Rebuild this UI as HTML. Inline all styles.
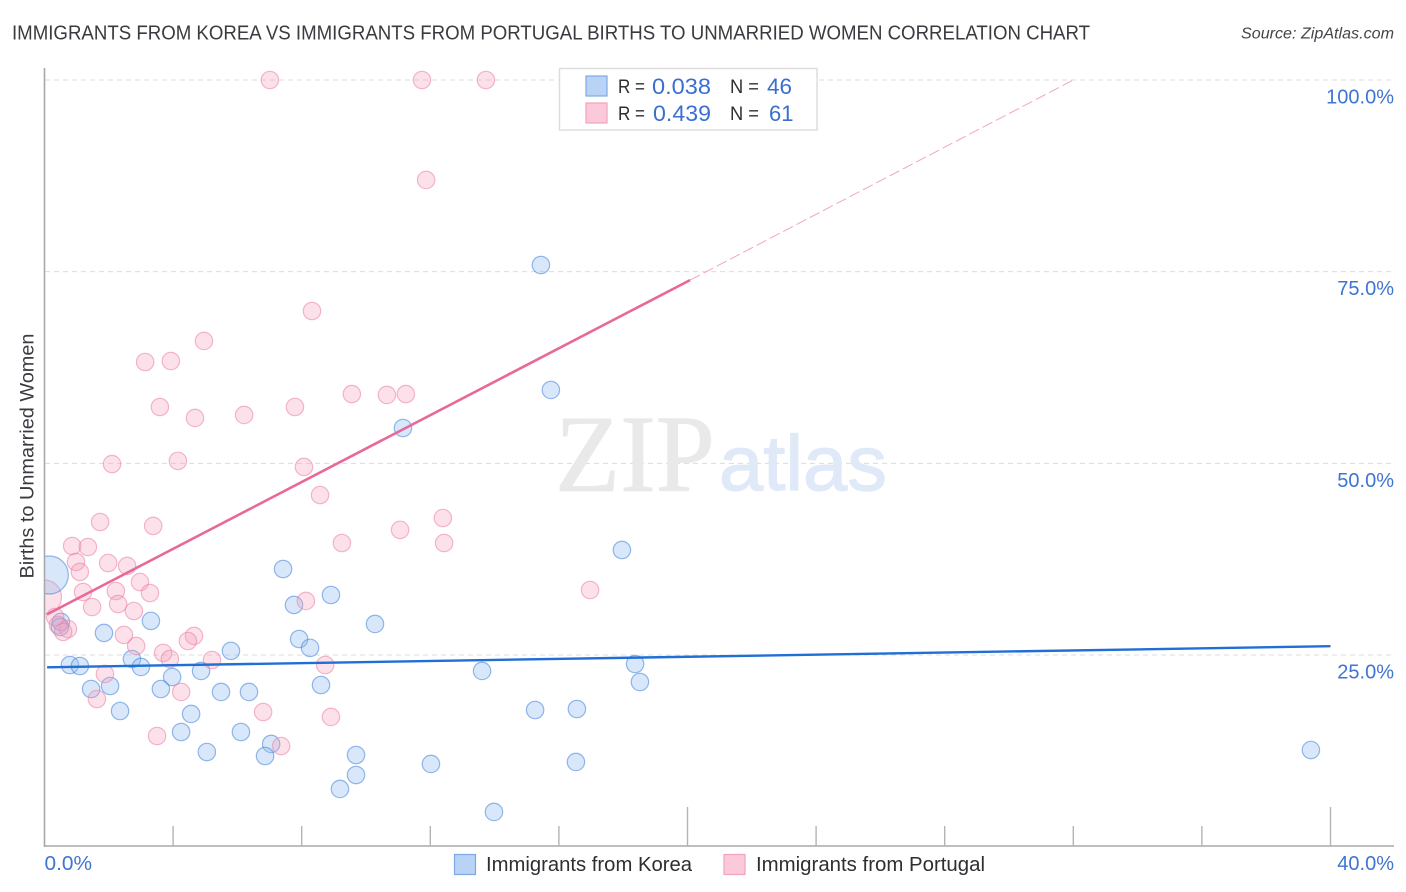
<!DOCTYPE html>
<html>
<head>
<meta charset="utf-8">
<title>Immigrants from Korea vs Immigrants from Portugal Births to Unmarried Women Correlation Chart</title>
<style>
html,body{margin:0;padding:0;background:#fff;width:1406px;height:892px;overflow:hidden}
svg{display:block}
text{font-family:"Liberation Sans",Arial,sans-serif}
</style>
</head>
<body>
<svg id="chart" xmlns="http://www.w3.org/2000/svg" width="1406" height="892" viewBox="0 0 1406 892">
  <defs>
    <clipPath id="plot-clip"><rect x="45" y="60" width="1349" height="786"/></clipPath>
  </defs>
  <rect width="1406" height="892" fill="#fff"/>
  <text x="12" y="39.5" font-size="20" fill="#3a3a40" textLength="1078" lengthAdjust="spacingAndGlyphs">IMMIGRANTS FROM KOREA VS IMMIGRANTS FROM PORTUGAL BIRTHS TO UNMARRIED WOMEN CORRELATION CHART</text>
  <text x="1241" y="38.5" font-size="15.5" font-style="italic" fill="#44444a" textLength="153" lengthAdjust="spacingAndGlyphs">Source: ZipAtlas.com</text>

  <g id="grid"></g>

  <g>
    <text x="555" y="491" font-size="110" fill="#e9e9e9" stroke="#e9e9e9" stroke-width="0.8" textLength="160" lengthAdjust="spacingAndGlyphs" style="font-family:'Liberation Serif',serif">ZIP</text>
    <text x="719" y="490" font-size="78" fill="#dfe9f8" stroke="#dfe9f8" stroke-width="1.2" textLength="168" lengthAdjust="spacingAndGlyphs">atlas</text>
  </g>

  <g id="points" clip-path="url(#plot-clip)"></g>
  <rect x="0" y="60" width="44" height="790" fill="#fff"/>

  <g id="axes">
    <line x1="44.5" y1="68" x2="44.5" y2="847" stroke="#a8a8a8" stroke-width="1.6"/>
    <line x1="44" y1="846" x2="1394" y2="846" stroke="#a8a8a8" stroke-width="1.6"/>
  </g>

  <g id="trends"></g>
  <g id="labels"></g>

  <text transform="translate(33.5,578.5) rotate(-90)" font-size="19" fill="#3a3a40" textLength="245" lengthAdjust="spacingAndGlyphs">Births to Unmarried Women</text>

  <g>
    <rect x="559.5" y="68.5" width="257.5" height="61.5" fill="#fff" stroke="#dcdcdc" stroke-width="1.4"/>
    <rect x="586" y="76" width="21" height="20" fill="#b9d3f6" stroke="#7ea9e6" stroke-width="1.2"/>
    <rect x="586" y="103" width="21" height="20" fill="#fbc9da" stroke="#f0a3bd" stroke-width="1.2"/>
    <text x="618" y="93" font-size="19" fill="#2e2e33" textLength="27" lengthAdjust="spacingAndGlyphs">R =</text>
    <text x="652" y="94" font-size="22" fill="#3a6fd0" textLength="59" lengthAdjust="spacingAndGlyphs">0.038</text>
    <text x="730" y="93" font-size="19" fill="#2e2e33" textLength="29" lengthAdjust="spacingAndGlyphs">N =</text>
    <text x="767" y="94" font-size="22" fill="#3a6fd0" textLength="25" lengthAdjust="spacingAndGlyphs">46</text>
    <text x="618" y="120" font-size="19" fill="#2e2e33" textLength="27" lengthAdjust="spacingAndGlyphs">R =</text>
    <text x="653" y="121" font-size="22" fill="#3a6fd0" textLength="58" lengthAdjust="spacingAndGlyphs">0.439</text>
    <text x="730" y="120" font-size="19" fill="#2e2e33" textLength="29" lengthAdjust="spacingAndGlyphs">N =</text>
    <text x="769" y="121" font-size="22" fill="#3a6fd0">61</text>
  </g>

  <g>
    <rect x="454.5" y="854.5" width="21" height="20" fill="#b9d3f6" stroke="#7ea9e6" stroke-width="1.2"/>
    <text x="486" y="871" font-size="20" fill="#2e2e33" textLength="206" lengthAdjust="spacingAndGlyphs">Immigrants from Korea</text>
    <rect x="724" y="854.5" width="21" height="20" fill="#fbc9da" stroke="#f0a3bd" stroke-width="1.2"/>
    <text x="756" y="871" font-size="20" fill="#2e2e33" textLength="229" lengthAdjust="spacingAndGlyphs">Immigrants from Portugal</text>
  </g>
</svg>
<script>
const koreaX = [15.44,15.75,11.15,17.96,7.42,8.91,7.76,10.28,3.31,0.51,0.48,1.85,7.92,8.26,5.80,2.72,3.00,0.79,1.10,4.87,3.97,1.45,2.04,3.62,5.49,6.36,8.60,13.61,18.37,18.52,15.26,16.56,2.35,4.56,4.25,6.11,7.05,5.05,6.86,9.69,9.69,9.19,12.02,16.53,13.98,39.39];
const koreaY = [75.87,59.57,54.61,38.70,36.22,32.83,31.53,29.05,29.45,29.32,28.66,27.88,27.09,25.93,25.54,24.48,23.44,23.70,23.57,22.92,22.13,20.57,20.96,20.57,20.18,20.18,21.09,22.92,23.83,21.48,17.83,17.96,17.70,17.31,14.96,14.96,13.40,12.35,11.83,11.96,9.35,7.53,10.79,11.05,4.53,12.61];
const koreaLargeX = [0.15];
const koreaLargeY = [35.44];
const portugalX = [7.01,11.74,13.73,11.87,8.32,4.96,3.13,3.93,9.56,10.65,11.24,3.59,7.79,4.68,6.21,2.10,4.15,8.07,8.57,1.73,3.38,12.39,11.06,9.25,12.43,0.86,1.35,0.98,1.98,2.57,1.10,2.97,1.20,2.22,3.28,16.97,8.13,1.48,2.29,2.78,0.33,0.42,0.73,0.58,2.47,2.85,4.65,4.46,3.69,3.90,5.21,8.73,1.88,4.25,1.63,6.80,8.91,3.50,7.36];
const portugalY = [100,100,100,86.96,69.87,65.96,63.22,63.35,59.04,58.92,59.04,57.35,57.35,55.92,56.31,49.91,50.32,49.53,45.87,42.35,41.84,42.87,41.32,39.61,39.61,39.22,39.09,37.14,37.00,36.62,35.84,34.52,33.22,33.35,33.09,33.48,32.05,31.26,31.65,30.74,29.96,28.92,28.39,28.01,27.62,26.18,27.49,26.83,25.28,24.48,24.35,23.70,22.53,20.18,19.26,17.57,16.92,14.44,13.13];
const portugalLargeX = [0];
const portugalLargeY = [32.57];
const koreaTrendX = [0.08,40];
const koreaTrendY = [23.4,26.15];
const portugalTrendX = [0.08,20.08];
const portugalTrendY = [30.3,73.9];
const portugalExtendedX = [20.08,32];
const portugalExtendedY = [73.9,100];
const yGridValues = [100,75,50,25];
const yTickLabels = ["100.0%","75.0%","50.0%","25.0%"];
const xTickValues = [4,8,12,16,20,24,28,32,36,40];
const xEndLabels = ["0.0%","40.0%"];

const NS = "http://www.w3.org/2000/svg";
function xScale(v){ return 44.5 + v * 32.15; }
function yScale(v){ return 846.7 - v * 7.667; }
function make(tag, attrs, parent){
  const el = document.createElementNS(NS, tag);
  for (const k in attrs) el.setAttribute(k, attrs[k]);
  parent.appendChild(el);
  return el;
}
const gridG = document.getElementById("grid");
const axesG = document.getElementById("axes");
const pointsG = document.getElementById("points");
const trendsG = document.getElementById("trends");
const labelsG = document.getElementById("labels");

yGridValues.forEach(function(v, i){
  const line = make("line", {x1:45, x2:1394, y1:yScale(v), y2:yScale(v), stroke:"#dcdcdc", "stroke-width":1, "stroke-dasharray":"5 4"}, gridG);
  
  
  const label = make("text", {x:1394, y:yScale(v) + 23.5, "text-anchor":"end", "font-size":20, fill:"#3f74d2"}, labelsG);
  label.textContent = yTickLabels[i];
  
  
});

xTickValues.forEach(function(v){
  const top = v % 20 === 0 ? 807 : 826;
  const tick = make("line", {x1:xScale(v), x2:xScale(v), y1:top, y2:846, stroke:"#b4b4b4", "stroke-width":1.4}, axesG);
  
  
});

const xLabelLeft = make("text", {x:44.5, y:870, "font-size":20, fill:"#3f74d2", textLength:47.5, lengthAdjust:"spacingAndGlyphs"}, labelsG);
xLabelLeft.textContent = xEndLabels[0];


const xLabelRight = make("text", {x:1394, y:870, "text-anchor":"end", "font-size":20, fill:"#3f74d2"}, labelsG);
xLabelRight.textContent = xEndLabels[1];



function drawPoint(x, y, r, isKorea){
  const c = make("circle", {
    cx: xScale(x), cy: yScale(y), r: r,
    fill: isKorea ? "#8ab8f0" : "#f59ab8",
    "fill-opacity": isKorea ? 0.33 : 0.3,
    stroke: isKorea ? "#3f80d8" : "#e97fa3",
    "stroke-opacity": 0.55,
    "stroke-width": 1.2
  }, pointsG);
  return c;
}
portugalLargeX.forEach(function(x, i){
  const c = drawPoint(x, portugalLargeY[i], 17, false);
  
  
});
koreaLargeX.forEach(function(x, i){
  const c = drawPoint(x, koreaLargeY[i], 19, true);
  
  
});
koreaX.forEach(function(x, i){
  const c = drawPoint(x, koreaY[i], 8.7, true);
  
  
});
portugalX.forEach(function(x, i){
  const c = drawPoint(x, portugalY[i], 8.7, false);
  
  
});

const extLine = make("line", {x1:xScale(portugalExtendedX[0]), y1:yScale(portugalExtendedY[0]), x2:xScale(portugalExtendedX[1]), y2:yScale(portugalExtendedY[1]), stroke:"#f0a6c0", "stroke-width":1, "stroke-dasharray":"11 4"}, trendsG);


const pinkLine = make("line", {x1:xScale(portugalTrendX[0]), y1:yScale(portugalTrendY[0]), x2:xScale(portugalTrendX[1]), y2:yScale(portugalTrendY[1]), stroke:"#e8689a", "stroke-width":2.6}, trendsG);


const blueLine = make("line", {x1:xScale(koreaTrendX[0]), y1:yScale(koreaTrendY[0]), x2:xScale(koreaTrendX[1]), y2:yScale(koreaTrendY[1]), stroke:"#1f6fd6", "stroke-width":2.4}, trendsG);


</script>
</body>
</html>
